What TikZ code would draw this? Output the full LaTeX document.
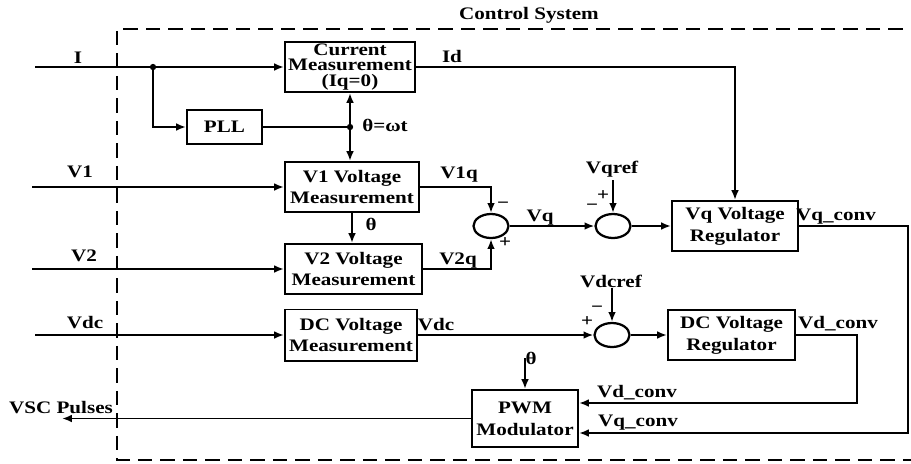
\documentclass[tikz,border=0pt]{standalone}
\usepackage{fontspec}
\setmainfont{Liberation Serif}[FakeStretch=1.2]
\usetikzlibrary{shapes.geometric,arrows.meta,positioning,calc}
\tikzset{
  blk/.style={rectangle,draw=black,line width=1.4pt,align=center,inner sep=0pt,
              font=\bfseries\fontsize{12.5}{15.5}\selectfont},
  sum/.style={ellipse,draw=black,line width=1.6pt,minimum width=0.875cm,
              minimum height=0.6cm,inner sep=0pt},
  lbl/.style={inner sep=0pt,font=\bfseries\fontsize{12.5}{14}\selectfont},
  dot/.style={circle,fill=black,inner sep=0pt,minimum size=4.5pt},
  arr/.style={-{Latex[length=7pt,width=5.5pt]},line width=1.4pt},
  wire/.style={line width=1.4pt},
}
\begin{document}
\begin{tikzpicture}[x=0.025cm,y=-0.025cm]
  \useasboundingbox (0,0) rectangle (911,463);
  % --- frame ---
  \draw[line width=1.4pt,dash pattern=on 10pt off 6pt]
    (925,29) -- (117,29) -- (117,460) -- (925,460);
  \node[lbl] (title) at (529,15) {Control System};
  % --- blocks ---
  \node[blk,minimum width=3.25cm,minimum height=1.25cm,
        font=\bfseries\fontsize{12.5}{11}\selectfont] (cur) at (350,67) {Current\\Measurement\\(Iq=0)};
  \node[blk,minimum width=1.875cm,minimum height=0.85cm] (pll) at (224.5,127) {PLL};
  \node[blk,minimum width=3.35cm,minimum height=1.25cm] (vone) at (352,187) {V1 Voltage\\Measurement};
  \node[blk,minimum width=3.425cm,minimum height=1.25cm] (vtwo) at (353.5,269) {V2 Voltage\\Measurement};
  \node[blk,minimum width=3.3cm,minimum height=1.275cm] (dcm) at (351,335) {DC Voltage\\Measurement};
  \node[blk,minimum width=3.15cm,minimum height=1.25cm] (vqr) at (735,226) {Vq Voltage\\Regulator};
  \node[blk,minimum width=3.175cm,minimum height=1.25cm] (dcr) at (731.5,335) {DC Voltage\\Regulator};
  \node[blk,minimum width=2.65cm,minimum height=1.425cm] (pwm) at (525,418.5) {PWM\\Modulator};
  \node[sum] (sone) at (491,226) {};
  \node[sum] (stwo) at (613,226) {};
  \node[sum] (sthree) at (612,335) {};
  % --- junctions and free ends ---
  \node[dot] (jI) at (153,67) {};
  \node[dot] (jt) at (350,127) {};
  \coordinate (iin) at (35,67);
  \coordinate (vonein) at (32,187);
  \coordinate (vtwoin) at (32,269);
  \coordinate (vdcin) at (35,335);
  \coordinate (vscout) at (62,418.5);
  \coordinate (vqref) at (613,180);
  \coordinate (vdcref) at (612,288);
  \coordinate (thpwm) at (525,358);
  \coordinate (qc) at (908,433);
  \coordinate (dc) at (857,403);
  % --- connectors ---
  \draw[arr] (iin) -- (cur.west);
  \draw[arr] (jI) |- (pll.west);
  \draw[wire] (pll.east) -- (jt);
  \draw[arr] (jt) -- (cur.south);
  \draw[arr] (jt) -- (jt |- vone.north);
  \draw[arr] (vonein) -- (vone.west);
  \draw[arr] (vone.south) -- (vone.south |- vtwo.north);
  \draw[arr] (vtwoin) -- (vtwo.west);
  \draw[arr] (vdcin) -- (dcm.west);
  \draw[arr] (vone.east) -| (sone.north);
  \draw[arr] (vtwo.east) -| (sone.south);
  \draw[arr] (sone.east) -- (stwo.west);
  \draw[arr] (vqref) -- (stwo.north);
  \draw[arr] (stwo.east) -- (vqr.west);
  \draw[arr] (cur.east) -| (vqr.north);
  \draw[arr] (dcm.east) -- (sthree.west);
  \draw[arr] (vdcref) -- (sthree.north);
  \draw[arr] (sthree.east) -- (dcr.west);
  \draw[arr] (dcr.east) -| (dc) -- (dc -| pwm.east);
  \draw[arr] (vqr.east) -| (qc) -- (qc -| pwm.east);
  \draw[arr] (thpwm) -- (pwm.north);
  \draw[arr] (pwm.west) -- (vscout);
  % --- labels ---
  \node[lbl] (lI) at (78,58) {I};
  \node[lbl] (lvone) at (80,172) {V1};
  \node[lbl] (lvtwo) at (84,256) {V2};
  \node[lbl] (lvdc) at (85,323) {Vdc};
  \node[lbl] (lvsc) at (61,408) {VSC Pulses};
  \node[lbl] (lId) at (452,56) {Id};
  \node[lbl] (ltheta) at (385,125) {θ=ωt};
  \node[lbl] (lthetab) at (371,224) {θ};
  \node[lbl] (lvoneq) at (459,175) {V1q};
  \node[lbl] (lvtwoq) at (458,261) {V2q};
  \node[lbl] (lmone) at (503,205) {−};
  \node[lbl] (lpone) at (505,243) {+};
  \node[lbl] (lvq) at (540,218) {Vq};
  \node[lbl] (lptwo) at (603,196) {+};
  \node[lbl] (lmtwo) at (592,207) {−};
  \node[lbl] (lvqref) at (612,169) {Vqref};
  \node[lbl] (lvqc) at (836,217) {Vq\_conv};
  \node[lbl] (lvdcref) at (611,281) {Vdcref};
  \node[lbl] (lmthree) at (597,309) {−};
  \node[lbl] (lpthree) at (587,322) {+};
  \node[lbl] (lvdcm) at (436,325) {Vdc};
  \node[lbl] (lvdc) at (838,324) {Vd\_conv};
  \node[lbl] (lthetap) at (531,358) {θ};
  \node[lbl] (lvdcb) at (637,393) {Vd\_conv};
  \node[lbl] (lvqcb) at (638,423) {Vq\_conv};
\end{tikzpicture}
\end{document}
